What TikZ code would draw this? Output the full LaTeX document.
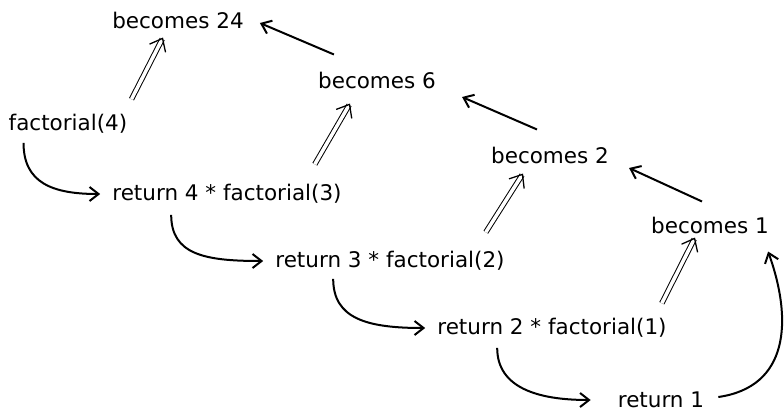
\documentclass[tikz,border=0pt]{standalone}
\usepackage{fontspec}
\setmainfont{DejaVu Sans}
\usepackage{tikz}
\usetikzlibrary{arrows.meta}

\begin{document}
\begin{tikzpicture}[x=1pt, y=-1pt,
    lbl/.style={inner sep=0pt, font=\fontsize{21.5}{26}\selectfont},
    call/.style={line width=2pt, shorten >=12pt, -{Straight Barb[length=9pt, width=14pt]}},
    back/.style={line width=2pt, -{Straight Barb[length=9pt, width=14pt]}},
    pass/.style={double, double distance=3.5pt, line width=1pt, -{Straight Barb[length=11pt, width=18pt, line width=1.3pt]}}]
    \useasboundingbox (0,0) rectangle (784,413);
    \node[lbl] (b24) at (178,20) {becomes 24};
    \node[lbl] (b6) at (377,80) {becomes 6};
    \node[lbl] (f4) at (68,124) {factorial(4)};
    \node[lbl] (b2) at (550,155) {becomes 2};
    \node[lbl] (r4) at (227,194) {return 4 * factorial(3)};
    \node[lbl] (b1) at (710,225) {becomes 1};
    \node[lbl] (r3) at (390,261) {return 3 * factorial(2)};
    \node[lbl] (r2) at (552,328) {return 2 * factorial(1)};
    \node[lbl] (r1) at (661,400) {return 1};
    \draw[call] ([shift={(15,9)}]f4.south west) .. controls +(0,40) and +(-60,0) .. (r4.west);
    \draw[call] ([shift={(59,11)}]r4.south west) .. controls +(0,40) and +(-70,0) .. (r3.west);
    \draw[call] ([shift={(58,8)}]r3.south west) .. controls +(0,40) and +(-70,0) .. (r2.west);
    \draw[call, shorten >=27pt] ([shift={(60,10)}]r2.south west) .. controls +(0,40) and +(-80,0) .. (r1.west);
    \draw[back] ([shift={(14,-3)}]r1.east) .. controls +(70,-10) and +(25,70) .. ([shift={(-1,18)}]b1.south east);
    \draw[pass] ([shift={(4,-15)}]f4.north east) -- ([shift={(-15,9)}]b24.south);
    \draw[pass] ([shift={(-27,-20)}]r4.north east) -- ([shift={(-27,15)}]b6.south);
    \draw[pass] ([shift={(-19,-19)}]r3.north east) -- ([shift={(-27,10)}]b2.south);
    \draw[pass] ([shift={(-5,-15)}]r2.north east) -- ([shift={(-15,4)}]b1.south);
    \draw[back] ([shift={(16,-17)}]b6.north west) -- ([shift={(16,3)}]b24.east);
    \draw[back] ([shift={(-13,-17)}]b2.north) -- ([shift={(26,17)}]b6.east);
    \draw[back] ([shift={(-8,-15)}]b1.north) -- ([shift={(20,13)}]b2.east);
\end{tikzpicture}
\end{document}
